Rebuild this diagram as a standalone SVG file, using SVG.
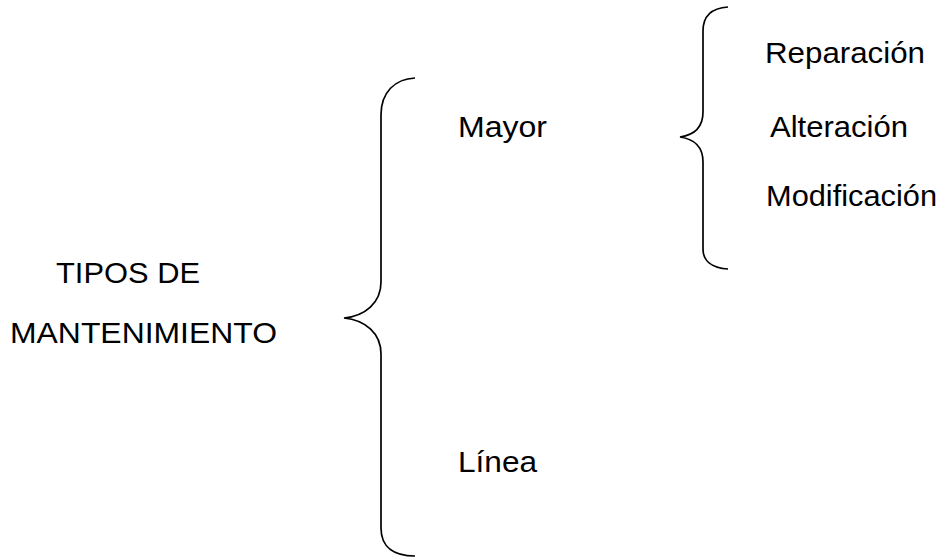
<svg xmlns="http://www.w3.org/2000/svg" width="944" height="559" viewBox="0 0 944 559">
<style>
text{font-family:"Liberation Sans",Arial,sans-serif;font-size:29px;fill:#000}
.brace{fill:none;stroke:#000;stroke-width:1.7}
</style>
<rect width="944" height="559" fill="#fff"/>
<g id="connectors">
<path class="brace" d="M415,78 C395,79 381,92 381,115 L381,282 C381,303 365,316 344,318 C365,320 381,333 381,354 L381,528 C381,548 395,556 415,556"/>
<path class="brace" d="M728,7 C712,8 703,16 703,31 L703,112 C703,127 694,135 680,137 C694,139 703,147 703,162 L703,249 C703,261 712,268 728,269"/>
</g>
<g id="root"><text x="56" y="283" textLength="144" lengthAdjust="spacingAndGlyphs">TIPOS DE</text><text x="10" y="343" textLength="267" lengthAdjust="spacingAndGlyphs">MANTENIMIENTO</text></g>
<g id="mayor"><text x="458" y="137" textLength="89" lengthAdjust="spacingAndGlyphs">Mayor</text></g>
<g id="linea"><text x="458" y="472" textLength="79" lengthAdjust="spacingAndGlyphs">Línea</text></g>
<g id="reparacion"><text x="765" y="63" textLength="160" lengthAdjust="spacingAndGlyphs">Reparación</text></g>
<g id="alteracion"><text x="770" y="137" textLength="138" lengthAdjust="spacingAndGlyphs">Alteración</text></g>
<g id="modificacion"><text x="766" y="206" textLength="171" lengthAdjust="spacingAndGlyphs">Modificación</text></g>
</svg>
